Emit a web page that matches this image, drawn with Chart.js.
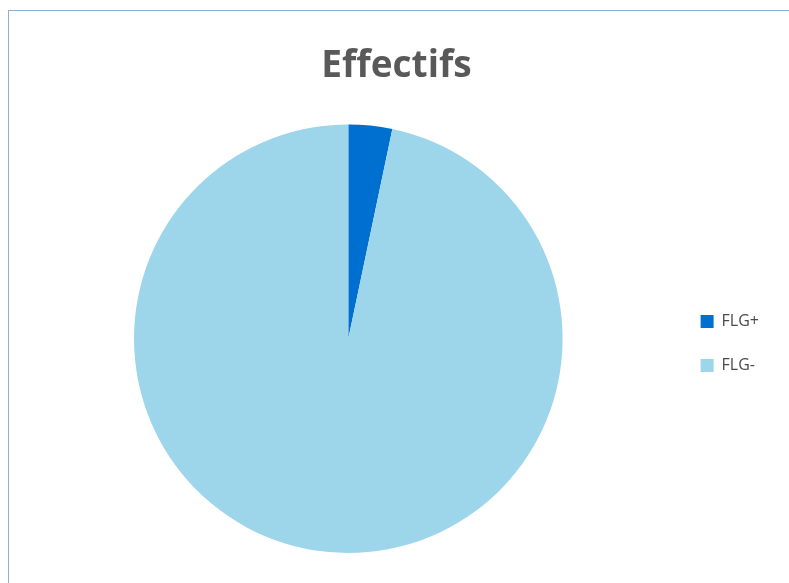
<!DOCTYPE html>
<html>
<head>
<meta charset="utf-8">
<script src="https://cdn.jsdelivr.net/npm/chart.js@4/dist/chart.umd.min.js"></script>
<style>
  html, body { margin: 0; padding: 0; background: #ffffff; }
  #wrap { position: relative; width: 789px; height: 583px; overflow: hidden; }
  #frame { position: absolute; left: 8px; top: 10px; width: 800px; height: 600px;
           border-left: 1px solid #8fb0d4; border-top: 1px solid #8fb0d4; box-sizing: border-box; }
  canvas { position: absolute; left: 0; top: 0; }
</style>
</head>
<body>
<div id="wrap">
  <div id="frame"></div>
  <canvas id="c" width="789" height="583"></canvas>
</div>
<script>
// Effectifs : répartition FLG+ / FLG-
const categories = ['FLG+', 'FLG-'];
const effectifs = [3, 88];
const sliceColors = ['#0070D0', '#9DD6EB'];
const chartTitle = 'Effectifs';

const FONT = '"Open Sans", "Liberation Sans", sans-serif';

new Chart(document.getElementById('c'), {
  type: 'pie',
  data: {
    labels: categories,
    datasets: [{
      data: effectifs,
      backgroundColor: sliceColors,
      borderWidth: 0
    }]
  },
  options: {
    responsive: false,
    animation: false,
    layout: { padding: { left: 24, right: 20, top: 10, bottom: 30 } },
    plugins: {
      title: {
        display: true,
        text: chartTitle,
        color: '#595959',
        font: { family: FONT, size: 37, weight: 'bold', lineHeight: 1.2 },
        padding: { top: 34, bottom: 36 }
      },
      legend: {
        position: 'right',
        // empty legend title used as a spacer so the entries sit beside the pie's middle
        title: { display: true, text: '', font: { size: 10, lineHeight: 1 }, padding: { top: 114, bottom: 0 } },
        labels: {
          boxWidth: 13,
          boxHeight: 13,
          padding: 28,
          color: '#4a4a4a',
          font: { family: FONT, size: 16, lineHeight: 1.0 }
        }
      },
      tooltip: { enabled: false }
    }
  }
});
</script>
</body>
</html>
